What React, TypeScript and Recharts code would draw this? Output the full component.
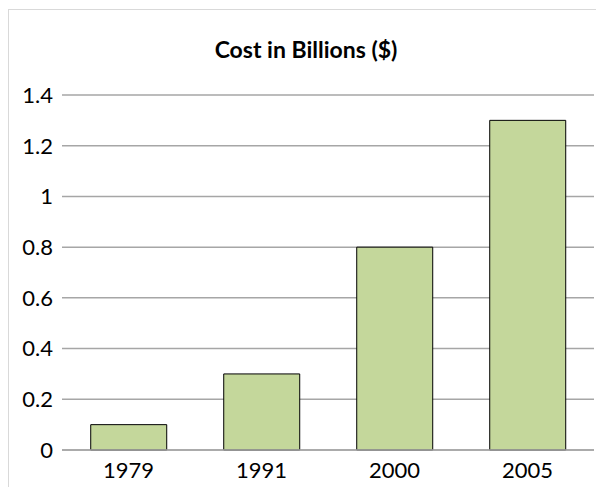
import React from "react";
import { BarChart, Bar, XAxis, YAxis, CartesianGrid } from "recharts";

const years = ["1979", "1991", "2000", "2005"];
const costs = [0.1, 0.3, 0.8, 1.3];
const yTicks = [0, 0.2, 0.4, 0.6, 0.8, 1, 1.2, 1.4];

const data = years.map((y, i) => ({ year: y, cost: costs[i] }));

export default function App() {
  return (
    <div>
      <div
        style={{
          position: "absolute",
          left: 8,
          top: 9,
          width: 640,
          height: 520,
          border: "1px solid #d9d9d9",
          boxSizing: "border-box",
        }}
      />
      <div
        style={{
          position: "absolute",
          left: 8,
          width: 596,
          top: 35,
          textAlign: "center",
          fontFamily: "Lato, sans-serif",
          fontWeight: 700,
          fontSize: 23,
          lineHeight: "28px",
          color: "#000",
        }}
      >
        Cost in Billions ($)
      </div>
      <div style={{ position: "absolute", left: 0, top: 0 }}>
        <BarChart
          width={596}
          height={487}
          data={data}
          margin={{ top: 95, right: 2, bottom: 7, left: 12 }}
          barCategoryGap="21.6%"
        >
          <CartesianGrid vertical={false} stroke="#a6a6a6" strokeWidth={1.5} />
          <XAxis
            dataKey="year"
            tickLine={false}
            axisLine={{ stroke: "#a6a6a6", strokeWidth: 1.5 }}
            height={30}
            tick={{ fill: "#000", fontSize: 22, fontFamily: "Lato, sans-serif" }}
            tickMargin={6}
          />
          <YAxis
            width={50}
            domain={[0, 1.4]}
            ticks={yTicks}
            tickLine={false}
            axisLine={false}
            tick={{ fill: "#000", fontSize: 22, fontFamily: "Lato, sans-serif" }}
            tickMargin={3}
          />
          <Bar
            dataKey="cost"
            fill="#c4d79b"
            stroke="#000"
            strokeWidth={1}
            isAnimationActive={false}
          />
        </BarChart>
      </div>
    </div>
  );
}
